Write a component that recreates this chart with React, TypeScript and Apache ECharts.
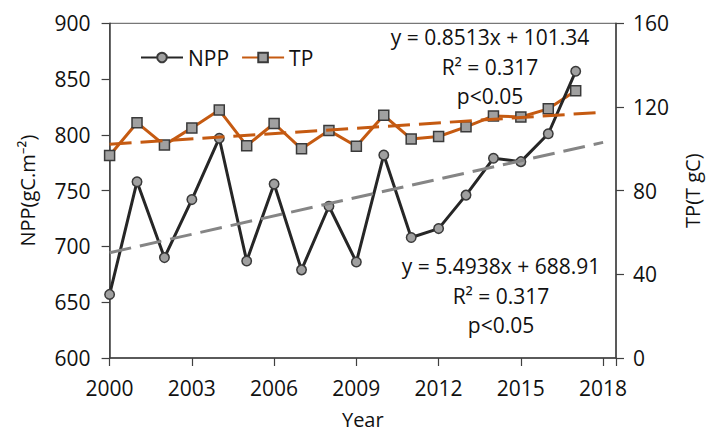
import React, { useEffect, useRef } from "react";
import * as echarts from "echarts";

const years = [2000, 2001, 2002, 2003, 2004, 2005, 2006, 2007, 2008, 2009, 2010, 2011, 2012, 2013, 2014, 2015, 2016, 2017];
const nppValues = [657, 758, 690, 742, 797, 687, 756, 679, 736, 686, 782, 708, 716, 746, 779, 776, 801, 857];
const tpValues = [96.8, 112.5, 101.8, 110.0, 118.5, 101.5, 112.1, 100.0, 108.8, 101.2, 116.0, 104.7, 105.9, 110.5, 115.7, 115.2, 119.1, 127.8];
// Trend equations as printed on the chart (x = 1 for 2000)
const nppTrend = [5.4938, 688.91];
const tpTrend = [0.8513, 101.34];
const trendYears = [2000, 2018];
const nppTicks = [600, 900, 50];
const tpTicks = [0, 160, 40];
const nppAnnot = ["y = 5.4938x + 688.91", "R² = 0.317", "p<0.05"];
const tpAnnot = ["y = 0.8513x + 101.34", "R² = 0.317", "p<0.05"];

const FONT = "'Open Sans', 'Noto Sans', sans-serif";
const ORANGE = "#C55A11";
const DARK = "#262626";
const MARK = "#A0A0A0";

export default function App() {
  const ref = useRef<HTMLDivElement>(null);
  useEffect(() => {
    document.body.style.margin = "0";
    const chart = echarts.init(ref.current!, null, { renderer: "svg" });
    const trendPts = (t: number[]) =>
      trendYears.map((yr) => [yr, t[0] * (yr - 2000 + 1) + t[1]]);
    const annot = (lines: string[], cx: number, y0: number) =>
      lines.map((s, i) => ({
        type: "text",
        x: cx,
        y: y0 + i * 29.5,
        z: 100,
        style: {
          text: s,
          fontSize: 21,
          fontFamily: FONT,
          fill: "#111",
          align: "center",
          verticalAlign: "middle",
        },
      }));
    const axisCommon = {
      axisLine: { show: true, lineStyle: { color: "#404040", width: 1.5 } },
      axisTick: { show: true, length: 8, lineStyle: { color: "#404040", width: 1.2 } },
      splitLine: { show: false },
      nameTextStyle: { fontSize: 20, fontFamily: FONT, color: "#111" },
    };
    chart.setOption({
      animation: false,
      grid: {
        left: 109.6,
        right: 88.5,
        top: 23.3,
        bottom: 71.3,
        show: true,
        borderColor: "#555",
        borderWidth: 1,
      },
      legend: {
        data: ["NPP", "TP"],
        left: 140,
        top: 47,
        padding: 0,
        itemWidth: 42,
        itemHeight: 12,
        itemGap: 12,
        textStyle: { fontSize: 21, fontFamily: FONT, color: "#111" },
      },
      xAxis: {
        type: "value",
        min: 2000,
        max: 2018.47,
        interval: 3,
        name: "Year",
        nameLocation: "middle",
        nameGap: 51,
        ...axisCommon,
        axisLabel: {
          fontSize: 21,
          fontFamily: FONT,
          color: "#111",
          margin: 19,
          formatter: (v: number) => ((v - 2000) % 3 === 0 ? String(v) : ""),
        },
      },
      yAxis: [
        {
          type: "value",
          min: nppTicks[0],
          max: nppTicks[1],
          interval: nppTicks[2],
          name: "NPP(gC.m⁻²)",
          nameLocation: "middle",
          nameGap: 72,
          nameRotate: 90,
          ...axisCommon,
          axisLabel: { fontSize: 21, fontFamily: FONT, color: "#111", margin: 19 },
        },
        {
          type: "value",
          min: tpTicks[0],
          max: tpTicks[1],
          interval: tpTicks[2],
          position: "right",
          name: "TP(T gC)",
          nameLocation: "middle",
          nameGap: 66,
          nameRotate: 90,
          ...axisCommon,
          axisLabel: { fontSize: 21, fontFamily: FONT, color: "#111", margin: 17 },
        },
      ],
      series: [
        {
          name: "TP",
          type: "line",
          yAxisIndex: 1,
          data: years.map((y, i) => [y, tpValues[i]]),
          symbol: "rect",
          symbolSize: 10,
          lineStyle: { color: ORANGE, width: 3 },
          itemStyle: { color: MARK, borderColor: "#3a3a3a", borderWidth: 1.5 },
          z: 3,
        },
        {
          name: "NPP",
          type: "line",
          yAxisIndex: 0,
          data: years.map((y, i) => [y, nppValues[i]]),
          symbol: "circle",
          symbolSize: 9.5,
          lineStyle: { color: DARK, width: 3 },
          itemStyle: { color: MARK, borderColor: "#3a3a3a", borderWidth: 1.5 },
          z: 4,
        },
        {
          name: "TP trend",
          type: "line",
          yAxisIndex: 1,
          data: trendPts(tpTrend),
          symbol: "none",
          lineStyle: { color: ORANGE, width: 3, type: [22, 9] },
          z: 5,
        },
        {
          name: "NPP trend",
          type: "line",
          yAxisIndex: 0,
          data: trendPts(nppTrend),
          symbol: "none",
          lineStyle: { color: "#858585", width: 3, type: [22, 9] },
          z: 5,
        },
      ],
      graphic: [...annot(tpAnnot, 490, 37), ...annot(nppAnnot, 501, 266)],
    });
    return () => chart.dispose();
  }, []);
  return (
    <div
      ref={ref}
      style={{ width: 710, height: 434, position: "fixed", left: 0, top: 0, background: "#fff" }}
    />
  );
}
